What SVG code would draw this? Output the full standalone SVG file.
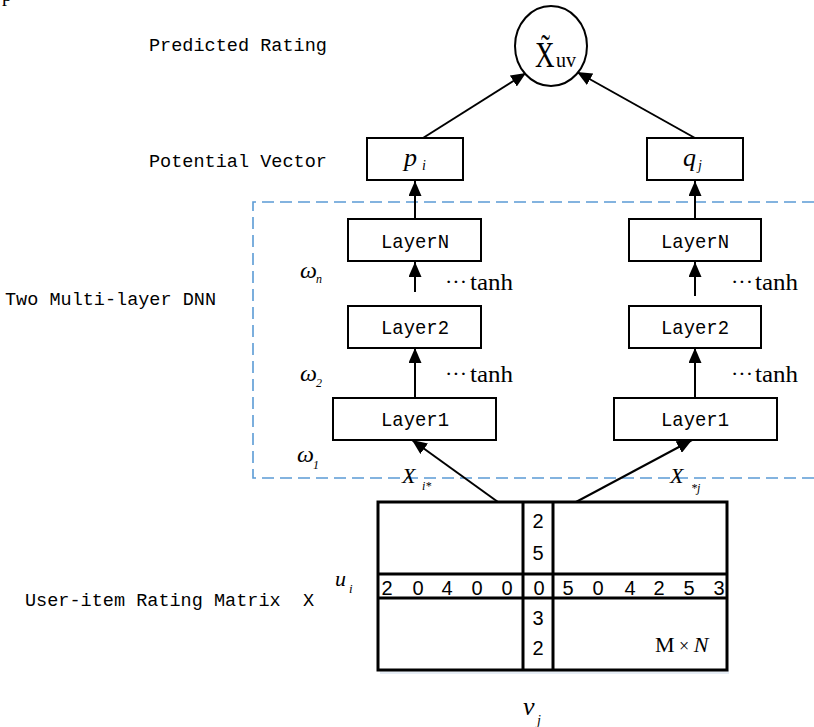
<svg xmlns="http://www.w3.org/2000/svg" width="814" height="727" viewBox="0 0 814 727">
<defs>
<marker id="ah" markerUnits="userSpaceOnUse" markerWidth="15" markerHeight="13" refX="15" refY="6.5" orient="auto">
<path d="M0,0 L15,6.5 L0,13 z" fill="#000"/>
</marker>
<style>
.lbl{font-family:"Liberation Mono",monospace;font-size:21px;fill:#000;white-space:pre}
.side{font-family:"Liberation Mono",monospace;font-size:18.5px;fill:#000;white-space:pre}
.box{fill:#fff;stroke:#000;stroke-width:2}
.ar{stroke:#000;stroke-width:2;fill:none;marker-end:url(#ah)}
.mth{font-family:"Liberation Serif",serif;fill:#000}
.it{font-style:italic}
.dig{font-family:"Liberation Sans",sans-serif;font-size:20px;fill:#000;text-anchor:middle}
.ml{stroke:#000;stroke-width:3;fill:none}
</style>
</defs>
<rect width="814" height="727" fill="#fff"/>
<text class="mth" x="2" y="0.5" font-size="20">p</text>

<g id="labels">
<text class="side" x="149" y="51" textLength="178" lengthAdjust="spacingAndGlyphs">Predicted Rating</text>
<text class="side" x="149" y="167" textLength="178" lengthAdjust="spacingAndGlyphs">Potential Vector</text>
<text class="side" x="5" y="305" textLength="211" lengthAdjust="spacingAndGlyphs">Two Multi-layer DNN</text>
<text class="side" x="25" y="606" textLength="289" lengthAdjust="spacingAndGlyphs">User-item Rating Matrix&#160; X</text>
</g>

<g id="dnn-frame">
<polyline points="814,202 253,202 253,478 814,478" fill="none" stroke="#5B9BD5" stroke-width="1.6" stroke-dasharray="12 6"/>
</g>

<g id="connectors">
<line class="ar" x1="423" y1="138" x2="526" y2="73"/>
<line class="ar" x1="695" y1="138" x2="577" y2="72"/>
<line class="ar" x1="415" y1="219" x2="415" y2="181"/>
<line class="ar" x1="695" y1="219" x2="695" y2="181"/>
<line class="ar" x1="415" y1="292" x2="415" y2="262"/>
<line class="ar" x1="695" y1="296" x2="695" y2="262"/>
<line class="ar" x1="415" y1="398" x2="415" y2="348"/>
<line class="ar" x1="695" y1="398" x2="695" y2="348"/>
<line class="ar" x1="498" y1="502" x2="412" y2="440"/>
<line class="ar" x1="576" y1="502" x2="692" y2="440"/>
</g>

<g id="predicted">
<ellipse cx="551" cy="46" rx="36" ry="40" fill="#fff" stroke="#000" stroke-width="2"/>
<text class="mth" transform="translate(535,67) scale(0.75,1)" font-size="36">X̃</text>
<text class="mth" x="556" y="67" font-size="22" textLength="20" lengthAdjust="spacingAndGlyphs">uv</text>
</g>

<g id="p_i">
<rect class="box" x="367" y="138" width="96" height="42"/>
<text class="mth it" x="404" y="166" font-size="26">p</text>
<text class="mth it" x="422" y="170" font-size="14">i</text>
</g>
<g id="q_j">
<rect class="box" x="647" y="138" width="96" height="42"/>
<text class="mth it" x="683" y="166" font-size="26">q</text>
<text class="mth it" x="698" y="170" font-size="14">j</text>
</g>

<g id="left-layerN">
<rect class="box" x="348" y="219" width="133" height="42"/>
<text class="lbl" x="415" y="248" text-anchor="middle" textLength="68" lengthAdjust="spacingAndGlyphs">LayerN</text>
</g>
<g id="left-layer2">
<rect class="box" x="348" y="306" width="133" height="42"/>
<text class="lbl" x="415" y="334" text-anchor="middle" textLength="68" lengthAdjust="spacingAndGlyphs">Layer2</text>
</g>
<g id="left-layer1">
<rect class="box" x="333" y="398" width="163" height="42"/>
<text class="lbl" x="415" y="426" text-anchor="middle" textLength="68" lengthAdjust="spacingAndGlyphs">Layer1</text>
</g>
<g id="right-layerN">
<rect class="box" x="629" y="219" width="132" height="42"/>
<text class="lbl" x="695" y="248" text-anchor="middle" textLength="68" lengthAdjust="spacingAndGlyphs">LayerN</text>
</g>
<g id="right-layer2">
<rect class="box" x="629" y="306" width="132" height="42"/>
<text class="lbl" x="695" y="334" text-anchor="middle" textLength="68" lengthAdjust="spacingAndGlyphs">Layer2</text>
</g>
<g id="right-layer1">
<rect class="box" x="614" y="398" width="163" height="42"/>
<text class="lbl" x="695" y="426" text-anchor="middle" textLength="68" lengthAdjust="spacingAndGlyphs">Layer1</text>
</g>

<g id="weights">
<text class="mth it" x="300" y="278" font-size="24">ω</text><text class="mth it" x="316" y="283" font-size="12">n</text>
<text class="mth it" x="300" y="381" font-size="24">ω</text><text class="mth it" x="316" y="387" font-size="12">2</text>
<text class="mth it" x="297" y="462" font-size="24">ω</text><text class="mth it" x="313" y="469" font-size="12">1</text>
</g>

<g id="activations">
<text class="mth" x="445" y="289" font-size="22" textLength="22" lengthAdjust="spacing">···</text>
<text class="mth" x="470" y="290" font-size="23" textLength="43" lengthAdjust="spacingAndGlyphs">tanh</text>
<text class="mth" x="445" y="381" font-size="22" textLength="22" lengthAdjust="spacing">···</text>
<text class="mth" x="470" y="382" font-size="23" textLength="43" lengthAdjust="spacingAndGlyphs">tanh</text>
<text class="mth" x="731" y="289" font-size="22" textLength="22" lengthAdjust="spacing">···</text>
<text class="mth" x="755" y="290" font-size="23" textLength="43" lengthAdjust="spacingAndGlyphs">tanh</text>
<text class="mth" x="731" y="381" font-size="22" textLength="22" lengthAdjust="spacing">···</text>
<text class="mth" x="755" y="382" font-size="23" textLength="43" lengthAdjust="spacingAndGlyphs">tanh</text>
</g>

<g id="edge-labels">
<text class="mth it" x="402" y="483" font-size="22">X</text><text class="mth it" x="422" y="490" font-size="12">i*</text>
<text class="mth it" x="670" y="483" font-size="22">X</text><text class="mth it" x="691" y="492" font-size="12">*j</text>
</g>

<g id="matrix">
<rect x="380" y="670" width="349" height="4" fill="#e6edf5"/>
<rect class="ml" x="378" y="502" width="349" height="168" fill="#fff"/>
<line class="ml" x1="523" y1="502" x2="523" y2="670"/>
<line class="ml" x1="553" y1="502" x2="553" y2="670"/>
<line class="ml" x1="378" y1="574" x2="727" y2="574"/>
<line class="ml" x1="378" y1="598" x2="727" y2="598"/>
<text class="dig" x="387" y="595">2</text>
<text class="dig" x="418" y="595">0</text>
<text class="dig" x="447" y="595">4</text>
<text class="dig" x="477" y="595">0</text>
<text class="dig" x="507" y="595">0</text>
<text class="dig" x="539" y="595">0</text>
<text class="dig" x="568" y="595">5</text>
<text class="dig" x="598" y="595">0</text>
<text class="dig" x="630" y="595">4</text>
<text class="dig" x="659" y="595">2</text>
<text class="dig" x="689" y="595">5</text>
<text class="dig" x="719" y="595">3</text>
<text class="dig" x="538" y="528">2</text>
<text class="dig" x="538" y="560">5</text>
<text class="dig" x="538" y="625">3</text>
<text class="dig" x="538" y="655">2</text>
<text class="mth" x="655" y="652" font-size="22">M<tspan font-size="18"> × </tspan><tspan class="it">N</tspan></text>
</g>

<g id="axis-labels">
<text class="mth it" x="335" y="586" font-size="22">u</text><text class="mth it" x="349" y="593" font-size="13">i</text>
<text class="mth it" x="523" y="715" font-size="26">v</text><text class="mth it" x="537" y="725" font-size="14">j</text>
</g>
</svg>
